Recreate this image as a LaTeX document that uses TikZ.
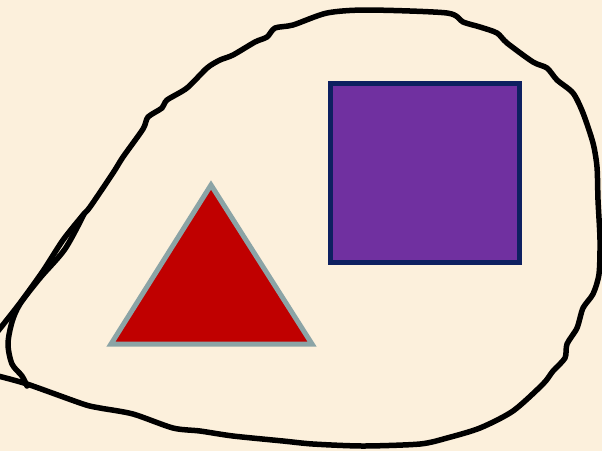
\documentclass[tikz,border=0pt]{standalone}
\usepackage{xcolor}
\usepackage{tikz}

\definecolor{paper}{RGB}{252,240,220}
\definecolor{trired}{RGB}{192,0,0}
\definecolor{trigray}{RGB}{139,164,166}
\definecolor{sqpurple}{RGB}{112,48,160}
\definecolor{sqnavy}{RGB}{14,32,96}

\begin{document}
\begin{tikzpicture}[
    x=1pt, y=-1pt,
    scribble/.style={draw=black, line width=5.5pt, line cap=round, line join=round},
    redtri/.style={fill=trired, draw=trigray, line width=5pt, line join=miter},
    purplesq/.style={fill=sqpurple, draw=sqnavy, line width=5pt}
]

% Background
\fill[paper] (0,0) rectangle (602,451);
\useasboundingbox (0,0) rectangle (602,451);
\clip (0,0) rectangle (602,451);

% Hand-drawn outline
\draw[scribble] plot[smooth, tension=0.45] coordinates {
    (-2,331) (20,303) (43,271) (63,240) (83,215) (90,207) (113,173) (123,157)
    (143,129) (148,117) (162,108) (167,100) (187,88) (207,68) (220,60) (233,55)
    (255,42) (267,37) (275,28) (293,25) (327,13) (367,10) (447,13) (463,22)
    (480,27) (497,33) (507,43) (533,62) (547,68) (557,80) (573,93) (583,113)
    (593,143) (597,167) (598,200) (600,240) (599,274) (593,294) (583,308)
    (577,328) (567,344) (565,358) (553,371) (543,384) (513,411) (480,428)
    (447,438) (420,444) (363,446) (313,444) (283,441) (233,436) (200,431)
    (173,428) (133,414) (100,408) (83,404) (27,384) (-2,376)};
\draw[scribble] plot[smooth, tension=0.5] coordinates {
    (84,214) (65,249) (40,278) (20,304) (12,322) (8,344) (12,364) (22,376) (27,386)};

% Shapes
\draw[redtri] (211,185) -- (312,344) -- (111,344) -- cycle;
\draw[purplesq] (330.5,83.5) rectangle (519.5,262.5);

\end{tikzpicture}
\end{document}
